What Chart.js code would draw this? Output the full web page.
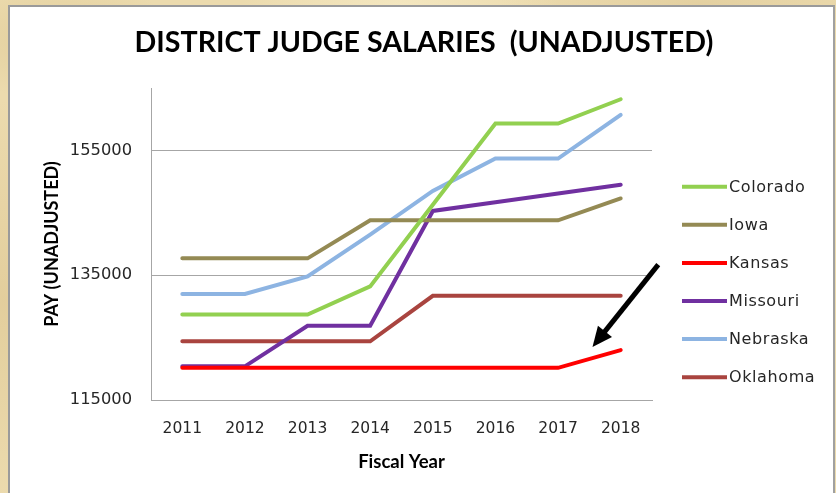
<!DOCTYPE html>
<html>
<head>
<meta charset="utf-8">
<script src="https://cdn.jsdelivr.net/npm/chart.js@4.4.1/dist/chart.umd.min.js"></script>
<style>
  html, body { margin: 0; padding: 0; }
  body {
    width: 836px; height: 493px; overflow: hidden; position: relative;
    background-color: #ECDBAE;
    background-image:
      radial-gradient(ellipse 120px 60px at 60px 40px, rgba(205,180,120,0.35), rgba(0,0,0,0)),
      radial-gradient(ellipse 160px 70px at 400px 10px, rgba(250,240,205,0.6), rgba(0,0,0,0)),
      radial-gradient(ellipse 90px 200px at 4px 300px, rgba(215,190,135,0.45), rgba(0,0,0,0)),
      radial-gradient(ellipse 200px 40px at 700px 4px, rgba(215,192,140,0.4), rgba(0,0,0,0));
  }
  #panel {
    position: absolute; left: 8px; top: 5px; width: 823px; height: 520px;
    background: #ffffff;
    border-left: 2px solid #9a9a9a; border-top: 2px solid #9a9a9a; border-right: 2px solid #a0a0a0;
  }
  #wrap { position: absolute; left: 0; top: 0; width: 836px; height: 493px; }
</style>
</head>
<body>
<div id="panel"></div>
<div id="wrap"><canvas id="c" width="836" height="493"></canvas></div>
<script>
// ---- data ----
const years = ['2011', '2012', '2013', '2014', '2015', '2016', '2017', '2018'];
const colorado = [128700, 128700, 128700, 133200, 146300, 159300, 159300, 163200];
const iowa     = [137700, 137700, 137700, 143800, 143800, 143800, 143800, 147300];
const kansas   = [120150, 120150, 120150, 120150, 120150, 120150, 120150, 123000];
const missouri = [120400, 120400, 126900, 126900, 145300, 146700, 148100, 149500];
const nebraska = [132000, 132000, 134800, 141500, 148500, 153700, 153700, 160700];
const oklahoma = [124400, 124400, 124400, 124400, 131700, 131700, 131700, 131700];
const seriesNames = ['Colorado', 'Iowa', 'Kansas', 'Missouri', 'Nebraska', 'Oklahoma'];
const yTicks = [115000, 135000, 155000];
const yMin = 115000, yMax = 165000;
// arrow annotation (category index, value)
const arrowFrom = { x: 7.6, y: 136700 };
const arrowTo   = { x: 6.55, y: 123500 };

const colors = ['#92D050', '#948A54', '#FF0000', '#7030A0', '#8DB4E2', '#A9443F'];
const seriesData = [colorado, iowa, kansas, missouri, nebraska, oklahoma];

const sideLegend = {
  id: 'sideLegend',
  afterDraw(chart) {
    const { ctx, chartArea } = chart;
    const x0 = chartArea.right + 30;
    ctx.save();
    chart.data.datasets.forEach((ds, i) => {
      const y = chartArea.top + 98.7 + i * 38.1;
      ctx.beginPath();
      ctx.strokeStyle = ds.borderColor;
      ctx.lineWidth = 4;
      ctx.lineCap = 'butt';
      ctx.moveTo(x0, y);
      ctx.lineTo(x0 + 45, y);
      ctx.stroke();
      ctx.fillStyle = '#262626';
      ctx.font = '16px "DejaVu Sans"';
      if ('letterSpacing' in ctx) ctx.letterSpacing = '0.6px';
      ctx.textBaseline = 'middle';
      ctx.textAlign = 'left';
      ctx.fillText(ds.label, x0 + 47, y + 1);
    });
    ctx.restore();
  }
};

const arrowPlugin = {
  id: 'arrow',
  afterDatasetsDraw(chart) {
    const { ctx, scales } = chart;
    const x1 = scales.x.getPixelForValue(arrowFrom.x), y1 = scales.y.getPixelForValue(arrowFrom.y);
    const x2 = scales.x.getPixelForValue(arrowTo.x), y2 = scales.y.getPixelForValue(arrowTo.y);
    const ang = Math.atan2(y2 - y1, x2 - x1);
    const headLen = 20, headHalf = 9;
    const bx = x2 - headLen * Math.cos(ang), by = y2 - headLen * Math.sin(ang);
    ctx.save();
    ctx.strokeStyle = '#000';
    ctx.lineWidth = 5;
    ctx.lineCap = 'butt';
    ctx.beginPath();
    ctx.moveTo(x1, y1);
    ctx.lineTo(bx + 2 * Math.cos(ang), by + 2 * Math.sin(ang));
    ctx.stroke();
    ctx.fillStyle = '#000';
    ctx.beginPath();
    ctx.moveTo(x2, y2);
    ctx.lineTo(bx + headHalf * Math.sin(ang), by - headHalf * Math.cos(ang));
    ctx.lineTo(bx - headHalf * Math.sin(ang), by + headHalf * Math.cos(ang));
    ctx.closePath();
    ctx.fill();
    ctx.restore();
  }
};

function build() {
  const datasets = seriesNames.map((n, i) => ({
    label: n,
    data: seriesData[i],
    borderColor: colors[i],
    backgroundColor: colors[i],
    borderWidth: 4,
    pointRadius: 0,
    pointHoverRadius: 0,
    tension: 0,
    fill: false,
    borderCapStyle: 'round',
    borderJoinStyle: 'miter'
  }));

  new Chart(document.getElementById('c'), {
    type: 'line',
    data: { labels: years, datasets },
    plugins: [sideLegend, arrowPlugin],
    options: {
      responsive: false,
      animation: false,
      events: [],
      layout: { padding: { left: 12, right: 0, top: 0, bottom: 0 } },
      plugins: {
        legend: { display: false },
        tooltip: { enabled: false },
        title: {
          display: true,
          text: 'DISTRICT JUDGE SALARIES  (UNADJUSTED)',
          color: '#000000',
          font: { family: 'Lato', size: 28.6, weight: 'bold' },
          padding: { top: 26.0, bottom: 27.7 }
        }
      },
      scales: {
        x: {
          offset: true,
          grid: { display: false, drawTicks: false },
          border: { display: true, color: '#A6A6A6', width: 1 },
          ticks: { padding: 20, color: '#262626', maxRotation: 0, font: { family: 'DejaVu Sans', size: 15.5 } },
          title: {
            display: true, text: 'Fiscal Year', color: '#000000',
            font: { family: 'Lato', size: 18.5, weight: 'bold' },
            padding: { top: 4, bottom: 19.4 }
          },
          afterFit: s => { s.height = 93; }
        },
        y: {
          min: yMin, max: yMax,
          afterBuildTicks: s => { s.ticks = yTicks.map(v => ({ value: v })); },
          grid: { color: '#A6A6A6', lineWidth: 1, drawTicks: false },
          border: { display: true, color: '#A6A6A6', width: 1 },
          ticks: { padding: 19, color: '#262626', font: { family: 'DejaVu Sans', size: 16.3 }, callback: v => String(v) },
          title: {
            display: true, text: 'PAY (UNADJUSTED)', color: '#000000',
            font: { family: 'Lato', size: 18, weight: 'bold' },
            padding: { top: 29.2, bottom: 0 }
          },
          afterFit: s => { s.width = 139; }
        },
        yr: {
          position: 'right', display: true,
          grid: { display: false, drawTicks: false },
          border: { display: false },
          ticks: { display: false },
          afterFit: s => { s.width = 184; }
        }
      }
    }
  });
}

Promise.all([
  document.fonts.load('bold 28px Lato'),
  document.fonts.load('16px "DejaVu Sans"')
]).catch(() => {}).then(build);
</script>
</body>
</html>
